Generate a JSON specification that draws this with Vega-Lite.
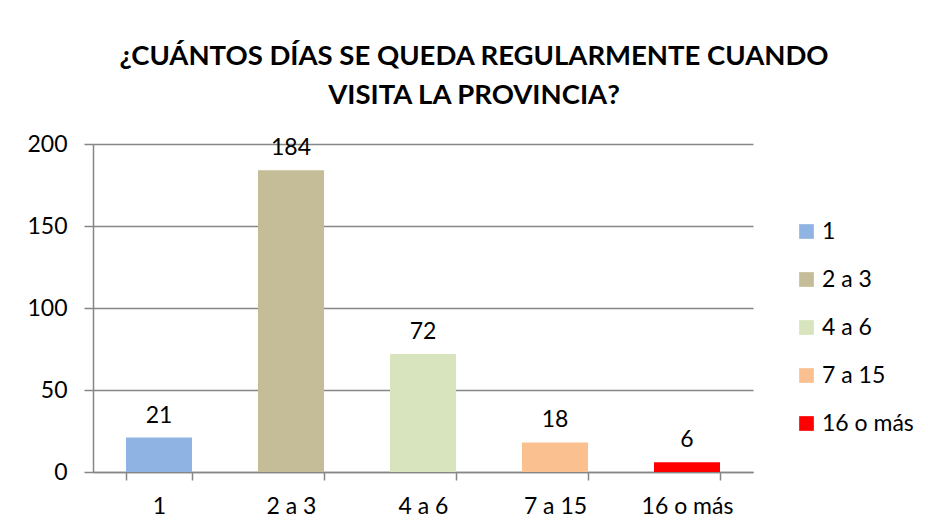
{
  "$schema": "https://vega.github.io/schema/vega-lite/v6.json",
  "autosize": {"type": "none"},
  "width": 660,
  "height": 328,
  "padding": {"left": 93, "top": 144, "right": 175, "bottom": 59},
  "background": "white",
  "title": {
    "text": ["¿CUÁNTOS DÍAS SE QUEDA REGULARMENTE CUANDO", "VISITA LA PROVINCIA?"],
    "font": "Lato",
    "fontSize": 27.5,
    "fontWeight": "bold",
    "color": "#000000",
    "lineHeight": 39,
    "anchor": "middle",
    "frame": "group",
    "dx": 51,
    "offset": 24
  },
  "data": {
    "values": [
      {"cat": "1", "value": 21},
      {"cat": "2 a 3", "value": 184},
      {"cat": "4 a 6", "value": 72},
      {"cat": "7 a 15", "value": 18},
      {"cat": "16 o más", "value": 6}
    ]
  },
  "encoding": {
    "x": {
      "field": "cat",
      "type": "nominal",
      "sort": null,
      "scale": {"paddingInner": 0.5, "paddingOuter": 0.25},
      "axis": {
        "title": null,
        "labelAngle": 0,
        "labelFont": "Lato",
        "labelFontSize": 23,
        "labelColor": "#000000",
        "labelPadding": 15,
        "tickBand": "extent",
        "tickSize": 8,
        "tickColor": "#868686",
        "tickWidth": 1.5,
        "domainColor": "#868686",
        "domainWidth": 1.5
      }
    },
    "y": {
      "field": "value",
      "type": "quantitative",
      "scale": {"domain": [0, 200], "nice": false},
      "axis": {
        "title": null,
        "values": [0, 50, 100, 150, 200],
        "labelFont": "Lato",
        "labelFontSize": 23,
        "labelColor": "#000000",
        "labelPadding": 17,
        "tickSize": 9,
        "tickColor": "#868686",
        "tickWidth": 1.5,
        "gridColor": "#868686",
        "gridWidth": 1.5,
        "domainColor": "#868686",
        "domainWidth": 1.5
      }
    }
  },
  "layer": [
    {
      "mark": {"type": "bar"},
      "encoding": {
        "color": {
          "field": "cat",
          "type": "nominal",
          "sort": null,
          "scale": {
            "domain": ["1", "2 a 3", "4 a 6", "7 a 15", "16 o más"],
            "range": ["#8FB3E2", "#C4BD97", "#D7E4BD", "#FAC090", "#FF0000"]
          },
          "legend": {
            "title": null,
            "orient": "none",
            "legendX": 702,
            "legendY": 76,
            "symbolType": "square",
            "symbolSize": 216,
            "symbolStrokeWidth": 0,
            "labelFont": "Lato",
            "labelFontSize": 23,
            "labelColor": "#000000",
            "labelOffset": 4,
            "rowPadding": 24
          }
        }
      }
    },
    {
      "mark": {"type": "text", "baseline": "alphabetic", "dy": -15, "font": "Lato", "fontSize": 23, "color": "#000000"},
      "encoding": {"text": {"field": "value", "type": "quantitative"}}
    }
  ],
  "config": {"view": {"stroke": null}}
}
